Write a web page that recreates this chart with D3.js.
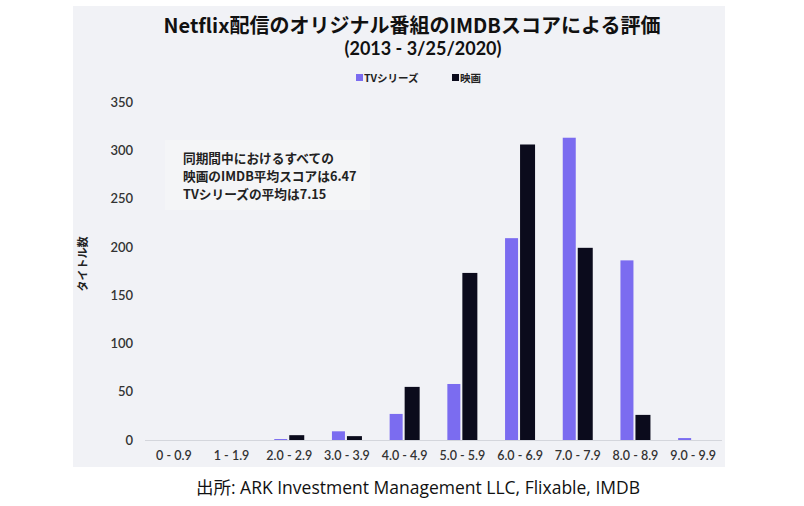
<!DOCTYPE html>
<html><head><meta charset="utf-8">
<script src="https://cdn.jsdelivr.net/npm/d3@7"></script>
<style>
body{margin:0;background:#fff;}
svg{display:block;font-family:Lato,"Noto Sans CJK JP",sans-serif;}
</style></head>
<body><svg id="c" width="804" height="506"></svg>
<script>
const categories = ["0 - 0.9","1 - 1.9","2.0 - 2.9","3.0 - 3.9","4.0 - 4.9","5.0 - 5.9","6.0 - 6.9","7.0 - 7.9","8.0 - 8.9","9.0 - 9.9"];
const tvSeries = [0,0,1,9,27,58,209,313,186,2];
const movies = [0,0,5,4,55,173,306,199,26,0];
const yTicks = [0,50,100,150,200,250,300,350];
const seriesNames = ["TVシリーズ","映画"];
const colors = ["#7b6cf0","#0b0b1c"];
const titleText = "Netflix配信のオリジナル番組のIMDBスコアによる評価";
const subtitleText = "(2013 - 3/25/2020)";
const noteLines = ["同期間中におけるすべての","映画のIMDB平均スコアは6.47","TVシリーズの平均は7.15"];
const yTitle = "タイトル数";
const sourceText = "出所: ARK Investment Management LLC, Flixable, IMDB";

const svg = d3.select("#c");
const jp = '"Noto Sans CJK JP",Lato,sans-serif';
// background panel
svg.append("rect").attr("x",73).attr("y",6).attr("width",652).attr("height",461).attr("fill","#f1f2f6");

const x = d3.scaleBand().domain(categories).range([145,722]);
const y = d3.scaleLinear().domain([0,350]).range([440,102]);

// note box
svg.append("rect").attr("x",165).attr("y",140).attr("width",205).attr("height",70).attr("fill","#f4f5f7");

// baseline
svg.append("line").attr("x1",145).attr("x2",722).attr("y1",y(0)+0.5).attr("y2",y(0)+0.5).attr("stroke","#d4d6dc").attr("stroke-width",1);

// y axis
const yAxis = d3.axisLeft(y).tickValues(yTicks).tickSize(0).tickPadding(0);
const gy = svg.append("g").attr("transform","translate(133,0)").call(yAxis);
gy.select(".domain").remove();
gy.selectAll("text").attr("font-size",13).attr("font-weight",600).attr("fill","#333").attr("font-family","Lato,sans-serif");

// x axis
const xAxis = d3.axisBottom(x).tickSize(0).tickPadding(0);
const gx = svg.append("g").attr("transform","translate(0,451)").call(xAxis);
gx.select(".domain").remove();
gx.selectAll("text").attr("font-size",12.5).attr("font-weight",600).attr("fill","#333").attr("dy","0.71em").attr("font-family","Lato,sans-serif");

// bars
const tvW = 13, mvW = 15, gap = 2;
const total = tvW + gap + mvW;
const g = svg.append("g");
g.selectAll(".tv").data(categories.map((c,i)=>({c,v:tvSeries[i]}))).join("rect")
  .attr("x",d=>x(d.c)+x.bandwidth()/2-total/2)
  .attr("width",tvW)
  .attr("y",d=>y(d.v)).attr("height",d=>y(0)-y(d.v))
  .attr("fill",colors[0]);
g.selectAll(".mv").data(categories.map((c,i)=>({c,v:movies[i]}))).join("rect")
  .attr("x",d=>x(d.c)+x.bandwidth()/2-total/2+tvW+gap)
  .attr("width",mvW)
  .attr("y",d=>y(d.v)).attr("height",d=>y(0)-y(d.v))
  .attr("fill",colors[1]);

// titles
svg.append("text").attr("x",412).attr("y",33).attr("text-anchor","middle")
  .attr("font-size",20).attr("font-weight",700).attr("fill","#111").attr("font-family",jp).text(titleText);
svg.append("text").attr("x",423).attr("y",55).attr("text-anchor","middle")
  .attr("font-size",18).attr("font-weight",700).attr("fill","#111").attr("font-family","Lato,sans-serif").text(subtitleText);

// legend
const legX = [356,452];
seriesNames.forEach((n,i)=>{
  svg.append("rect").attr("x",legX[i]).attr("y",74).attr("width",7).attr("height",7).attr("fill",colors[i]);
  svg.append("text").attr("x",legX[i]+8).attr("y",81.5).attr("font-size",10.5).attr("font-weight",700)
    .attr("fill","#222").attr("font-family",jp).text(n);
});

// note
noteLines.forEach((t,i)=>{
  svg.append("text").attr("x",183).attr("y",163+i*18).attr("font-size",12.7).attr("font-weight",700)
    .attr("fill","#222").attr("font-family",jp).text(t);
});

// y title
svg.append("text").attr("transform","translate(87,264) rotate(-90)").attr("text-anchor","middle")
  .attr("font-size",11).attr("font-weight",700).attr("fill","#222").attr("font-family",jp).text(yTitle);

// source
svg.append("text").attr("x",418).attr("y",494).attr("text-anchor","middle")
  .attr("font-size",17.5).attr("fill","#111").attr("font-family",'"Open Sans","Noto Sans CJK JP",sans-serif').text(sourceText);
</script></body></html>
